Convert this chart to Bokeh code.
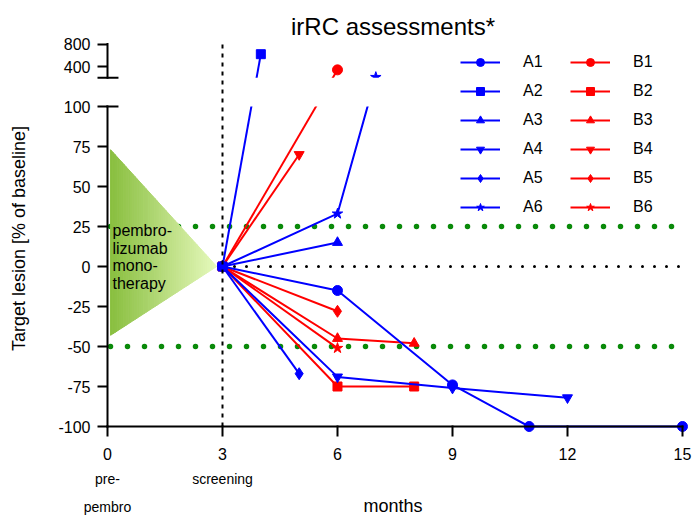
import numpy as np
from bokeh.plotting import figure
from bokeh.models import Range1d, FixedTicker, Legend, LegendItem, Label, LinearAxis
from bokeh.embed import file_html
from bokeh.resources import INLINE

# ---------------- data (months, % change of target lesion vs baseline) -------------
A1_months = [3, 6, 9, 11, 15]
A1_change = [0, -15, -74, -100, -100]
A2_months = [3, 4]
A2_change = [0, 620]
A3_months = [3, 6]
A3_change = [0, 15]
A4_months = [3, 6, 9, 12]
A4_change = [0, -69, -76, -82]
A5_months = [3, 5]
A5_change = [0, -67]
A6_months = [3, 6, 7]
A6_change = [0, 33, 210]
B1_months = [3, 6]
B1_change = [0, 340]
B2_months = [3, 6, 8]
B2_change = [0, -75, -75]
B3_months = [3, 6, 8]
B3_change = [0, -45, -48]
B4_months = [3, 5]
B4_change = [0, 70]
B5_months = [3, 6]
B5_change = [0, -28]
B6_months = [3, 6]
B6_change = [0, -51]

x_ticks = [0, 3, 6, 9, 12, 15]
y_ticks_lower = [-100, -75, -50, -25, 0, 25, 50, 75, 100]
y_ticks_upper = [400, 800]
threshold_lines = [25, -50]
baseline_level = 0
screening_month = 3
note_months = [0, 3]
x_label_notes = ["pre-\npembro", "screening"]
legend_labels = ["A1", "A2", "A3", "A4", "A5", "A6", "B1", "B2", "B3", "B4", "B5", "B6"]

# ---------------- broken y axis transform ----------------
LOW_TOP = 100        # top of lower segment
HIGH_BOTTOM = 200    # bottom of upper segment
GAP = 18             # gap between segments (in lower-segment units)
HIGH_SCALE = 0.035   # compression of the upper segment


def yt(v):
    return v if v <= LOW_TOP else LOW_TOP + GAP + (v - HIGH_BOTTOM) * HIGH_SCALE


def ytl(vals):
    return [yt(v) for v in vals]


FONT = "Liberation Sans"
BLUE = "#0000FF"
RED = "#FF0000"

X0, X1 = -0.2609, 15.157
Y0, Y1 = -106.25, 141.25

p = figure(width=693, height=519, x_range=Range1d(X0, X1), y_range=Range1d(Y0, Y1),
           output_backend="svg", toolbar_location=None,
           min_border_left=97, min_border_right=5, min_border_top=40, min_border_bottom=83,
           title="irRC assessments*")
p.outline_line_color = None
p.xgrid.visible = False
p.ygrid.visible = False
p.background_fill_color = "white"
p.border_fill_color = "white"

p.title.align = "center"
p.title.text_font = FONT
p.title.text_font_size = "24px"
p.title.text_font_style = "normal"
p.title.text_color = "black"
p.title.standoff = 2

# x axis (numbers)
xa = p.xaxis[0]
xa.ticker = FixedTicker(ticks=x_ticks)
xa.major_label_overrides = {t: str(t) for t in x_ticks}
xa.axis_line_color = None
xa.major_tick_in = 11
xa.major_tick_out = 0
xa.major_tick_line_width = 2
xa.major_tick_line_color = "black"
xa.minor_tick_line_color = None
xa.major_label_standoff = 11
xa.major_label_text_font = FONT
xa.major_label_text_font_size = "16px"
xa.major_label_text_color = "black"

# second x axis row: notes under 0 and 3, plus the axis title
xb = LinearAxis(ticker=FixedTicker(ticks=note_months),
                major_label_overrides={m: t for m, t in zip(note_months, x_label_notes)})
xb.axis_line_color = None
xb.major_tick_line_color = None
xb.minor_tick_line_color = None
xb.major_tick_in = 0
xb.major_tick_out = 0
xb.major_label_standoff = 8
xb.major_label_text_font = FONT
xb.major_label_text_font_size = "14px"
xb.major_label_text_color = "black"
xb.major_label_text_line_height = 1.75
xb.axis_label = "months"
xb.axis_label_text_font = FONT
xb.axis_label_text_font_size = "18px"
xb.axis_label_text_font_style = "normal"
xb.axis_label_text_color = "black"
xb.axis_label_standoff = -22
p.add_layout(xb, "below")

# y axis (broken)
ya = p.yaxis[0]
ytick_pos = [yt(v) for v in y_ticks_lower + y_ticks_upper]
ya.ticker = FixedTicker(ticks=ytick_pos)
ya.major_label_overrides = {int(round(yt(v))): str(v) for v in y_ticks_lower + y_ticks_upper}
ya.axis_line_color = None
ya.major_tick_in = 10
ya.major_tick_out = 0
ya.major_tick_line_width = 2
ya.major_tick_line_color = "black"
ya.minor_tick_line_color = None
ya.major_label_standoff = 7
ya.major_label_text_font = FONT
ya.major_label_text_font_size = "16px"
ya.major_label_text_color = "black"
ya.axis_label = "Target lesion [% of baseline]"
ya.axis_label_text_font = FONT
ya.axis_label_text_font_size = "18px"
ya.axis_label_text_font_style = "normal"
ya.axis_label_text_color = "black"
ya.axis_label_standoff = 26

# green threshold lines
for lvl in threshold_lines:
    p.line([x_ticks[0], x_ticks[-1]], [yt(lvl), yt(lvl)], line_color="#0a8a0a",
           line_width=5.5, line_dash="0 17", line_cap="round", line_dash_offset=14)

# gradient therapy triangle
tx0, tx1, ttop, tbot = 0.08, 2.85, 73, -43
n = 48
c0 = np.array([136, 190, 62])
c1 = np.array([230, 249, 188])
xs_list, ys_list, cols = [], [], []
for i in range(n):
    a = tx0 + (tx1 - tx0) * i / n
    b = tx0 + (tx1 - tx0) * (i + 1) / n
    fa = 1 - (a - tx0) / (tx1 - tx0)
    fb = 1 - (b - tx0) / (tx1 - tx0)
    xs_list.append([a, b, b, a])
    ys_list.append([ttop * fa, ttop * fb, tbot * fb, tbot * fa])
    c = c0 + (c1 - c0) * (i + 0.5) / n
    cols.append("#%02x%02x%02x" % tuple(int(round(v)) for v in c))
p.patches(xs_list, ys_list, fill_color=cols, line_color=cols, line_width=1)

p.add_layout(Label(x=0.13, y=28, text="pembro-\nlizumab\nmono-\ntherapy",
                   text_font=FONT, text_font_size="16px", text_baseline="top",
                   text_align="left", text_line_height=1.05, text_color="black"))

# black dotted baseline
p.line([screening_month, x_ticks[-1]], [baseline_level, baseline_level], line_color="black",
       line_width=3, line_dash="0 12", line_cap="round")

# data series
series = [
    ("A1", A1_months, A1_change, BLUE, "circle", 10),
    ("A2", A2_months, A2_change, BLUE, "square", 9),
    ("A3", A3_months, A3_change, BLUE, "triangle", 10),
    ("A4", A4_months, A4_change, BLUE, "inverted_triangle", 10),
    ("A5", A5_months, A5_change, BLUE, "diamond", 12),
    ("A6", A6_months, A6_change, BLUE, "star", 11),
    ("B1", B1_months, B1_change, RED, "circle", 10),
    ("B2", B2_months, B2_change, RED, "square", 9),
    ("B3", B3_months, B3_change, RED, "triangle", 10),
    ("B4", B4_months, B4_change, RED, "inverted_triangle", 10),
    ("B5", B5_months, B5_change, RED, "diamond", 12),
    ("B6", B6_months, B6_change, RED, "star", 11),
]
rend = {}
for name, xs, ys, col, mk, sz in series[6:] + series[:6]:
    l = p.line(xs, ytl(ys), line_color=col, line_width=2)
    s = p.scatter(xs, ytl(ys), marker=mk, size=sz, fill_color=col, line_color=col)
    rend[name] = [l, s]

# white gap of the broken axis
p.quad(left=[X0], right=[X1], bottom=[LOW_TOP], top=[LOW_TOP + GAP],
       fill_color="white", line_color=None)

# vertical dotted screening line
p.line([screening_month, screening_month], [y_ticks_lower[0], 141], line_color="black",
       line_width=2, line_dash="4 5")

# axis spines and break caps
CAP = 0.26
p.segment(x0=[0, 0, 0, 0, X0], y0=[-100, yt(HIGH_BOTTOM), -100, LOW_TOP, yt(HIGH_BOTTOM)],
          x1=[0, 0, x_ticks[-1], CAP, CAP],
          y1=[LOW_TOP, yt(y_ticks_upper[-1]), -100, LOW_TOP, yt(HIGH_BOTTOM)],
          line_color="black", line_width=2, line_cap="square")

legend = Legend(items=[LegendItem(label=nm, renderers=rend[nm]) for nm in legend_labels],
                location=(363, 219), orientation="vertical", ncols=2,
                glyph_width=40, glyph_height=20, label_standoff=23, label_width=38,
                spacing=9, padding=0, margin=0, border_line_color=None,
                background_fill_alpha=0, label_text_font=FONT, label_text_font_size="16px",
                label_text_color="black")
p.add_layout(legend)

open("out.html", "w").write(file_html(p, INLINE))
